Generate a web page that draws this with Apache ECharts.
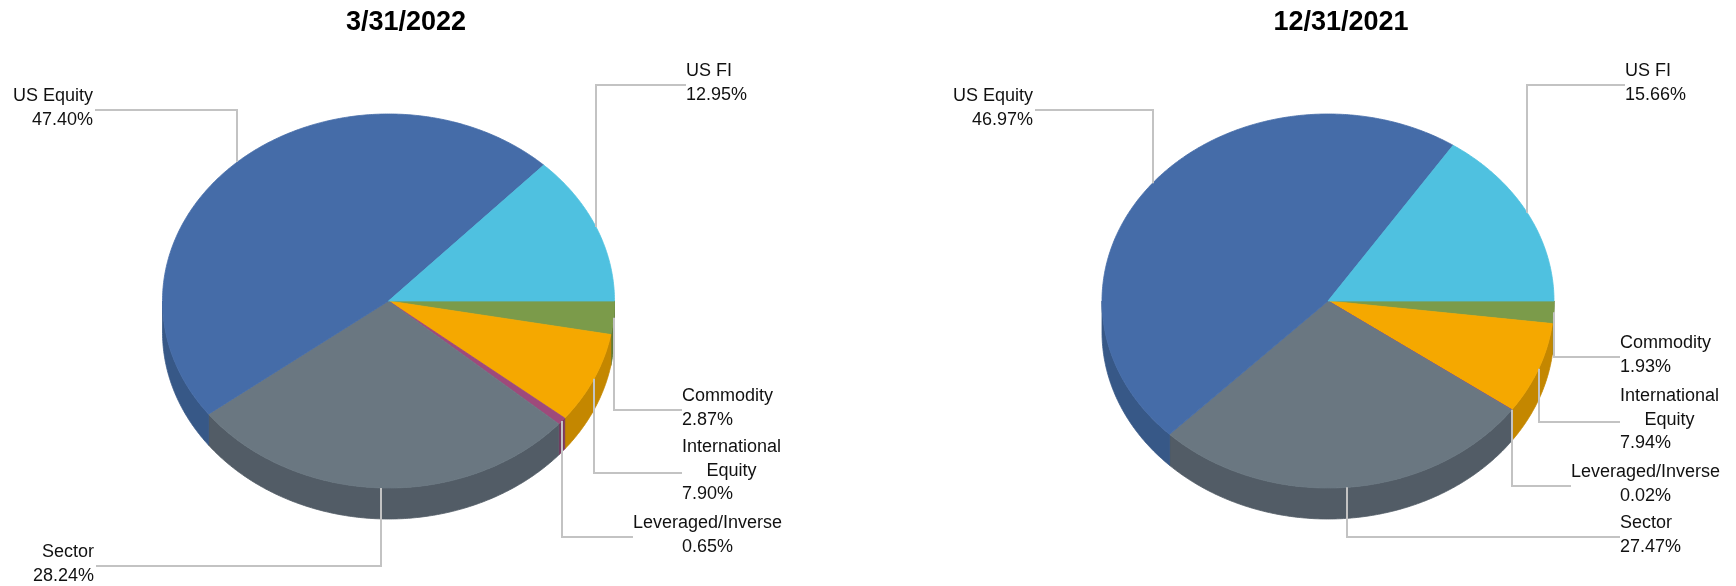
<!DOCTYPE html>
<html>
<head>
<meta charset="utf-8">
<script src="https://cdn.jsdelivr.net/npm/echarts@6/dist/echarts.min.js"></script>
<style>
  html, body { margin: 0; padding: 0; background: #ffffff; }
  #chart { width: 1736px; height: 586px; }
</style>
</head>
<body>
<div id="chart"></div>
<script>
// ---- data (clockwise from 3 o'clock) ----
const categories = ['Commodity', 'International Equity', 'Leveraged/Inverse', 'Sector', 'US Equity', 'US FI'];
const labelNames = ['Commodity', 'International\nEquity', 'Leveraged/Inverse', 'Sector', 'US Equity', 'US FI'];
const values2022 = [2.87, 7.90, 0.65, 28.24, 47.40, 12.95];
const values2021 = [1.93, 7.94, 0.02, 27.47, 46.97, 15.66];
const titles = ['3/31/2022', '12/31/2021'];

// ---- styles ----
const topColors  = ['#7B9B4A', '#F5A800', '#9E4A7B', '#6A7781', '#456CA8', '#4FC1E0'];
const wallColors = ['#5F7A36', '#C48700', '#7B375F', '#525C66', '#375887', '#3A9CB8'];
const FONT_SIZE = 18;
const FONT = FONT_SIZE + 'px "Liberation Sans", Arial, sans-serif';
const LINE_H = 23.5;
const LEADER = '#C3C3C3';

// ---- layout (pixels in the 1736x586 frame) ----
const pies = [
  { values: values2022, cx: 388.5, cy: 301, rx: 226, ry: 187, depth: 31, titleX: 401,
    labels: [
      { side: 'right', x: 682, y: 410 },
      { side: 'right', x: 682, y: 473 },
      { side: 'right', x: 682, y: 537, centerOnValue: true },
      { side: 'left',  x: 94,  y: 566 },
      { side: 'left',  x: 93,  y: 110 },
      { side: 'right', x: 686, y: 85 }
    ] },
  { values: values2021, cx: 1328, cy: 301, rx: 226, ry: 187, depth: 31, titleX: 1336,
    labels: [
      { side: 'right', x: 1620, y: 357 },
      { side: 'right', x: 1620, y: 422 },
      { side: 'right', x: 1620, y: 486, centerOnValue: true },
      { side: 'right', x: 1620, y: 537 },
      { side: 'left',  x: 1033, y: 110 },
      { side: 'right', x: 1625, y: 85 }
    ] }
];

const measureCtx = document.createElement('canvas').getContext('2d');
measureCtx.font = FONT;
function tw(s) { return measureCtx.measureText(s).width; }

function makeRenderItem(pie) {
  const total = pie.values.reduce((a, b) => a + b, 0);
  const cum = [0];
  pie.values.forEach((v, i) => cum.push(cum[i] + v));
  const pt = (deg, dy) => {
    const r = deg * Math.PI / 180;
    return [pie.cx + pie.rx * Math.cos(r), pie.cy - pie.ry * Math.sin(r) + (dy || 0)];
  };
  const arc = (from, to, dy) => {
    const n = Math.max(2, Math.ceil(Math.abs(from - to) / 0.5));
    const out = [];
    for (let k = 0; k <= n; k++) out.push(pt(from + (to - from) * k / n, dy));
    return out;
  };
  return function (params, api) {
    const i = params.dataIndex;
    const v = api.value(0);
    const a0 = -cum[i] / total * 360;
    const a1 = a0 - v / total * 360;
    const children = [];
    // side wall (front half only: angles in [-180, 0])
    const lo = Math.max(a1, -180), hi = Math.min(a0, 0);
    if (hi > lo) {
      const upper = arc(hi, lo, 0);
      const lower = arc(hi, lo, pie.depth).reverse();
      children.push({ type: 'polygon', z2: 1, shape: { points: upper.concat(lower) },
        style: { fill: wallColors[i], stroke: wallColors[i], lineWidth: 0.8 } });
    }
    // top face
    children.push({ type: 'polygon', z2: 2,
      shape: { points: [[pie.cx, pie.cy]].concat(arc(a0, a1, 0)) },
      style: { fill: topColors[i], stroke: topColors[i], lineWidth: 0.8 } });
    // label + leader
    const L = pie.labels[i];
    const mid = (a0 + a1) / 2;
    const anchor = pt(mid, 0);
    const ax = Math.round(anchor[0]);
    const nameLines = labelNames[i].split('\n');
    const valText = v.toFixed(2) + '%';
    const lines = nameLines.concat([valText]);
    const top = L.y - 2 - (lines.length * LINE_H) / 2;
    const nameW = Math.max.apply(null, nameLines.map(tw));
    const valW = tw(valText);
    if (L.side === 'right') {
      const nameCenter = L.centerOnValue ? L.x + valW / 2 : L.x + nameW / 2;
      nameLines.forEach((s, k) => {
        children.push({ type: 'text', z2: 4, x: nameCenter, y: top + LINE_H * (k + 0.5),
          style: { text: s, font: FONT, fill: '#111', align: 'center', verticalAlign: 'middle' } });
      });
      children.push({ type: 'text', z2: 4, x: L.x, y: top + LINE_H * (nameLines.length + 0.5),
        style: { text: valText, font: FONT, fill: '#111', align: 'left', verticalAlign: 'middle' } });
      const blockLeft = Math.min(L.x, nameCenter - nameW / 2);
      children.push({ type: 'polyline', z2: 3,
        shape: { points: [[ax, anchor[1]], [ax, L.y], [blockLeft, L.y]] },
        style: { stroke: LEADER, lineWidth: 2, fill: null } });
    } else {
      lines.forEach((s, k) => {
        children.push({ type: 'text', z2: 4, x: L.x, y: top + LINE_H * (k + 0.5),
          style: { text: s, font: FONT, fill: '#111', align: 'right', verticalAlign: 'middle' } });
      });
      const blockRight = L.x + 2;
      children.push({ type: 'polyline', z2: 3,
        shape: { points: [[ax, anchor[1]], [ax, L.y], [blockRight, L.y]] },
        style: { stroke: LEADER, lineWidth: 2, fill: null } });
    }
    return { type: 'group', children: children };
  };
}

const chart = echarts.init(document.getElementById('chart'), null, { renderer: 'canvas' });
chart.setOption({
  animation: false,
  backgroundColor: '#ffffff',
  title: pies.map((p, k) => ({
    text: titles[k], left: p.titleX, top: 4, textAlign: 'center',
    textStyle: { fontSize: 27, fontWeight: 'bold', color: '#000',
      fontFamily: '"Liberation Sans", Arial, sans-serif' }
  })),
  series: pies.map((p, k) => ({
    type: 'custom',
    name: titles[k],
    coordinateSystem: 'none',
    silent: true,
    renderItem: makeRenderItem(p),
    data: p.values.map((v, i) => ({ name: categories[i], value: [v] }))
  }))
});
</script>
</body>
</html>
